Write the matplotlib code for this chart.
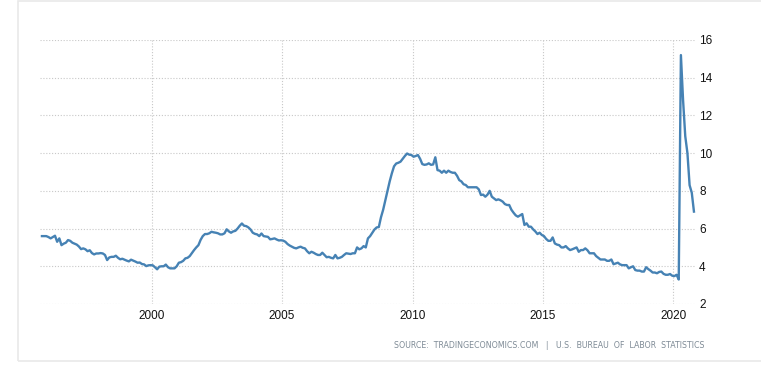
import numpy as np
import matplotlib
matplotlib.use("Agg")
import matplotlib.pyplot as plt
from matplotlib.patches import Rectangle

# monthly rate, Oct 1995 .. Oct 2020
r1995 = [5.6, 5.6, 5.6]
r1996 = [5.55, 5.48, 5.55, 5.62, 5.3, 5.48, 5.12, 5.2, 5.25, 5.39, 5.35, 5.25]
r1997 = [5.2, 5.15, 5.05, 4.91, 4.95, 4.9, 4.8, 4.85, 4.7, 4.63, 4.68, 4.68]
r1998 = [4.7, 4.68, 4.6, 4.33, 4.47, 4.5, 4.5, 4.56, 4.45, 4.37, 4.4, 4.35]
r1999 = [4.3, 4.26, 4.35, 4.3, 4.25, 4.19, 4.2, 4.12, 4.1, 4.01, 4.05, 4.06]
r2000 = [4.05, 3.95, 3.84, 3.98, 4.0, 4.0, 4.09, 3.95, 3.89, 3.89, 3.89, 4.0]
r2001 = [4.19, 4.22, 4.29, 4.42, 4.45, 4.54, 4.7, 4.86, 5.0, 5.12, 5.4, 5.6]
r2002 = [5.71, 5.71, 5.75, 5.83, 5.8, 5.78, 5.75, 5.69, 5.69, 5.75, 5.96, 5.85]
r2003 = [5.78, 5.85, 5.88, 6.0, 6.15, 6.27, 6.15, 6.13, 6.06, 5.95, 5.78, 5.72]
r2004 = [5.69, 5.6, 5.74, 5.6, 5.58, 5.56, 5.43, 5.45, 5.48, 5.42, 5.37, 5.38]
r2005 = [5.36, 5.3, 5.18, 5.1, 5.04, 4.98, 4.95, 5.0, 5.04, 4.98, 4.95, 4.8]
r2006 = [4.69, 4.77, 4.72, 4.65, 4.6, 4.6, 4.72, 4.6, 4.48, 4.5, 4.45, 4.42]
r2007 = [4.6, 4.42, 4.45, 4.5, 4.6, 4.69, 4.67, 4.65, 4.69, 4.69, 5.0, 4.9]
r2008 = [4.95, 5.07, 5.0, 5.48, 5.6, 5.78, 5.95, 6.06, 6.08, 6.6, 7.0, 7.5]
r2009 = [8.0, 8.5, 8.93, 9.3, 9.45, 9.49, 9.55, 9.7, 9.85, 9.98, 9.92, 9.9]
r2010 = [9.81, 9.85, 9.9, 9.7, 9.42, 9.38, 9.4, 9.46, 9.38, 9.4, 9.78, 9.1]
r2011 = [9.07, 8.96, 9.07, 8.96, 9.07, 9.0, 8.96, 8.96, 8.8, 8.57, 8.5, 8.35]
r2012 = [8.31, 8.19, 8.19, 8.19, 8.19, 8.19, 8.08, 7.78, 7.8, 7.69, 7.8, 8.0]
r2013 = [7.69, 7.6, 7.51, 7.55, 7.5, 7.43, 7.3, 7.25, 7.25, 7.0, 6.84, 6.7]
r2014 = [6.63, 6.7, 6.77, 6.19, 6.28, 6.1, 6.1, 5.96, 5.85, 5.71, 5.78, 5.66]
r2015 = [5.6, 5.45, 5.35, 5.35, 5.53, 5.21, 5.15, 5.12, 5.0, 5.0, 5.07, 4.95]
r2016 = [4.86, 4.9, 4.95, 5.0, 4.77, 4.86, 4.86, 4.95, 4.85, 4.69, 4.69, 4.69]
r2017 = [4.54, 4.45, 4.36, 4.36, 4.36, 4.29, 4.29, 4.36, 4.11, 4.15, 4.19, 4.1]
r2018 = [4.06, 4.06, 4.06, 3.89, 3.95, 4.0, 3.8, 3.77, 3.77, 3.72, 3.72, 3.95]
r2019 = [3.85, 3.77, 3.67, 3.67, 3.63, 3.7, 3.72, 3.6, 3.55, 3.55, 3.59, 3.5]
r2020 = [3.48, 3.55, 3.3, 15.2, 12.8, 10.9, 10.0, 8.3, 7.9, 6.9]

XTICKS = [2000, 2005, 2010, 2015, 2020]
YTICKS = [2, 4, 6, 8, 10, 12, 14, 16]
SOURCE = "SOURCE:  TRADINGECONOMICS.COM   |   U.S.  BUREAU  OF  LABOR  STATISTICS"

values = np.array(r1995 + r1996 + r1997 + r1998 + r1999 + r2000 + r2001
                  + r2002 + r2003 + r2004 + r2005 + r2006 + r2007 + r2008
                  + r2009 + r2010 + r2011 + r2012 + r2013 + r2014 + r2015
                  + r2016 + r2017 + r2018 + r2019 + r2020)
# mid-month decimal dates starting October 1995
dates = 1995 + (9 + np.arange(len(values)) + 0.5) / 12.0

W, H, dpi = 761, 373, 100
fig = plt.figure(figsize=(W / dpi, H / dpi), dpi=dpi)
fig.patch.set_facecolor("white")

# light container frame
fig.add_artist(Rectangle((17.5 / W, 1 - 361 / H), 1.2, 360.5 / H,
                         transform=fig.transFigure, fill=False,
                         edgecolor="#e9e9e9", linewidth=1.2))

left, right, top, bottom = 40, 695, 40, 304
ax = fig.add_axes([left / W, 1 - bottom / H, (right - left) / W,
                   (bottom - top) / H])

ax.plot(dates, values, color="#4682b4", linewidth=1.7,
        solid_joinstyle="round", clip_on=False, zorder=3)

ax.set_xlim(1995.717, 2020.832)
ax.set_ylim(2, 16)
ax.set_xticks(XTICKS)
ax.set_yticks(YTICKS)
ax.set_xticklabels([str(t) for t in XTICKS])
ax.yaxis.tick_right()
ax.tick_params(axis="both", length=0, labelsize=8.5, colors="#111111",
               labelfontfamily="Liberation Sans")
ax.tick_params(axis="y", pad=3)
ax.tick_params(axis="x", pad=4.5)
ax.grid(True, color="#c8c8c8", linestyle=(0, (1, 1.6)), linewidth=0.8)
ax.set_axisbelow(True)
for sp in ax.spines.values():
    sp.set_visible(False)

fig.text(704 / W, 1 - 346 / H, SOURCE, ha="right", va="center",
         fontsize=5.7, color="#7f8b96", family="DejaVu Sans")

fig.savefig("out.png", dpi=dpi, facecolor="white")
